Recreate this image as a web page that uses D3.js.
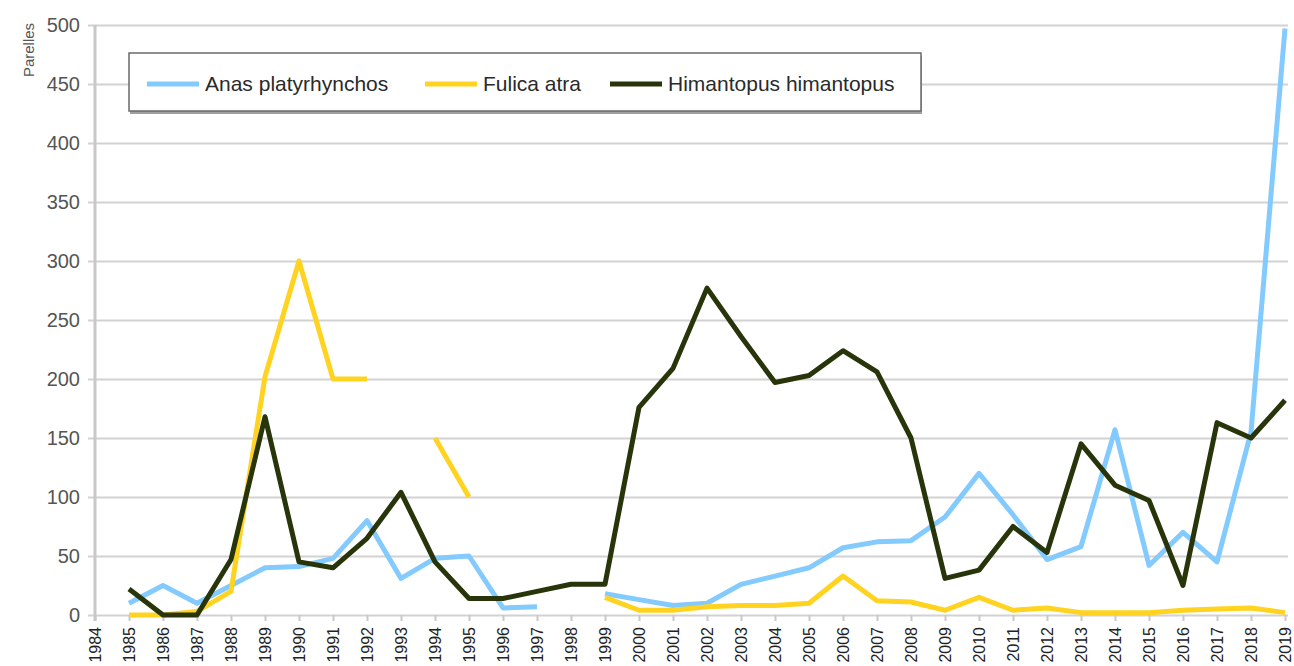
<!DOCTYPE html>
<html>
<head>
<meta charset="utf-8">
<script src="https://cdn.jsdelivr.net/npm/d3@7/dist/d3.min.js"></script>
<style>
  html, body { margin: 0; padding: 0; background: #ffffff; }
  svg { display: block; }
  text { font-family: "Liberation Sans", Arial, sans-serif; }
</style>
</head>
<body>
<svg id="chart" width="1294" height="666"></svg>
<script>
// Breeding pairs per year (null = no count)
const years = ["1984","1985","1986","1987","1988","1989","1990","1991","1992","1993",
  "1994","1995","1996","1997","1998","1999","2000","2001","2002","2003","2004","2005",
  "2006","2007","2008","2009","2010","2011","2012","2013","2014","2015","2016","2017",
  "2018","2019"];

const anas = [null, 10, 25, 10, 25, 40, 41, 48, 80, 31, 48, 50, 6, 7, null, 18, 13, 8,
  10, 26, 33, 40, 57, 62, 63, 83, 120, 85, 47, 58, 157, 42, 70, 45, 155, 497];

const fulica = [null, 0, 0, 3, 20, 202, 300, 200, 200, null, 150, 100, null, null, null,
  15, 4, 4, 7, 8, 8, 10, 33, 12, 11, 4, 15, 4, 6, 2, 2, 2, 4, 5, 6, 2];

const himantopus = [null, 22, 0, 0, 47, 168, 45, 40, 65, 104, 45, 14, 14, 20, 26, 26,
  176, 209, 277, 236, 197, 203, 224, 206, 150, 31, 38, 75, 53, 145, 110, 97, 25, 163,
  150, 182];

const yTicks = [0, 50, 100, 150, 200, 250, 300, 350, 400, 450, 500];
const seriesNames = ["Anas platyrhynchos", "Fulica atra", "Himantopus himantopus"];
const seriesColors = ["#83caff", "#ffd320", "#28350a"];
const yTitle = "Parelles";

const series = [anas, fulica, himantopus].map((vals, i) => ({
  name: seriesNames[i],
  color: seriesColors[i],
  values: vals.map((v, j) => ({ year: years[j], value: v }))
}));

const svg = d3.select("#chart");
const plotLeft = 95, plotRight = 1285, plotTop = 25, plotBottom = 615;

const x = d3.scalePoint().domain(years).range([plotLeft, plotRight]);
const y = d3.scaleLinear().domain([0, 500]).range([plotBottom, plotTop]);

// Horizontal gridlines with left ticks and labels
const yAxis = d3.axisLeft(y).tickValues(yTicks).tickSize(-(plotRight + 3 - plotLeft)).tickPadding(7);
const gy = svg.append("g").attr("transform", `translate(${plotLeft},0)`).call(yAxis);
gy.select(".domain").remove();
gy.selectAll(".tick line")
  .attr("x1", -7)
  .attr("stroke", "#d2d2d2")
  .attr("stroke-width", 2);
gy.selectAll(".tick text")
  .attr("x", -15)
  .attr("fill", "#555555")
  .style("font-size", "20px");

// Vertical axis line
svg.append("line")
  .attr("x1", plotLeft).attr("x2", plotLeft)
  .attr("y1", plotTop).attr("y2", plotBottom + 6)
  .attr("stroke", "#c8c8c8").attr("stroke-width", 3);

// Category axis with rotated year labels
const xAxis = d3.axisBottom(x).tickSize(6).tickPadding(0);
const gx = svg.append("g").attr("transform", `translate(0,${plotBottom})`).call(xAxis);
gx.select(".domain").remove();
gx.selectAll(".tick line").attr("stroke", "#c8c8c8").attr("stroke-width", 2);
gx.selectAll(".tick text")
  .attr("transform", "rotate(-90)")
  .attr("x", -12)
  .attr("y", 0)
  .attr("dy", "0.36em")
  .attr("text-anchor", "end")
  .attr("fill", "#222222")
  .style("font-size", "16px");

// Axis title
svg.append("text")
  .attr("transform", "translate(34,50) rotate(-90)")
  .attr("text-anchor", "middle")
  .attr("fill", "#555555")
  .style("font-size", "15px")
  .text(yTitle);

// Series lines
const line = d3.line()
  .defined(d => d.value !== null)
  .x(d => x(d.year))
  .y(d => y(d.value));

svg.append("g").selectAll("path")
  .data(series)
  .join("path")
  .attr("d", d => line(d.values))
  .attr("fill", "none")
  .attr("stroke", d => d.color)
  .attr("stroke-width", 5)
  .attr("stroke-linejoin", "round")
  .attr("stroke-linecap", "butt");

// Legend
const legend = svg.append("g");
legend.append("rect")
  .attr("x", 130).attr("y", 56).attr("width", 792).attr("height", 58)
  .attr("fill", "#a0a0a0");
legend.append("rect")
  .attr("x", 129).attr("y", 53).attr("width", 792).attr("height", 58)
  .attr("fill", "#ffffff").attr("stroke", "#6a6a6a").attr("stroke-width", 1.5);

const legendX = [147, 425, 610];
const items = legend.selectAll("g.item")
  .data(series)
  .join("g")
  .attr("class", "item")
  .attr("transform", (d, i) => `translate(${legendX[i]},84)`);
items.append("line")
  .attr("x1", 0).attr("x2", 52)
  .attr("stroke", d => d.color)
  .attr("stroke-width", 5);
items.append("text")
  .attr("x", 58)
  .attr("dy", "0.35em")
  .attr("fill", "#2a2a2a")
  .style("font-size", "21px")
  .text(d => d.name);
</script>
</body>
</html>
